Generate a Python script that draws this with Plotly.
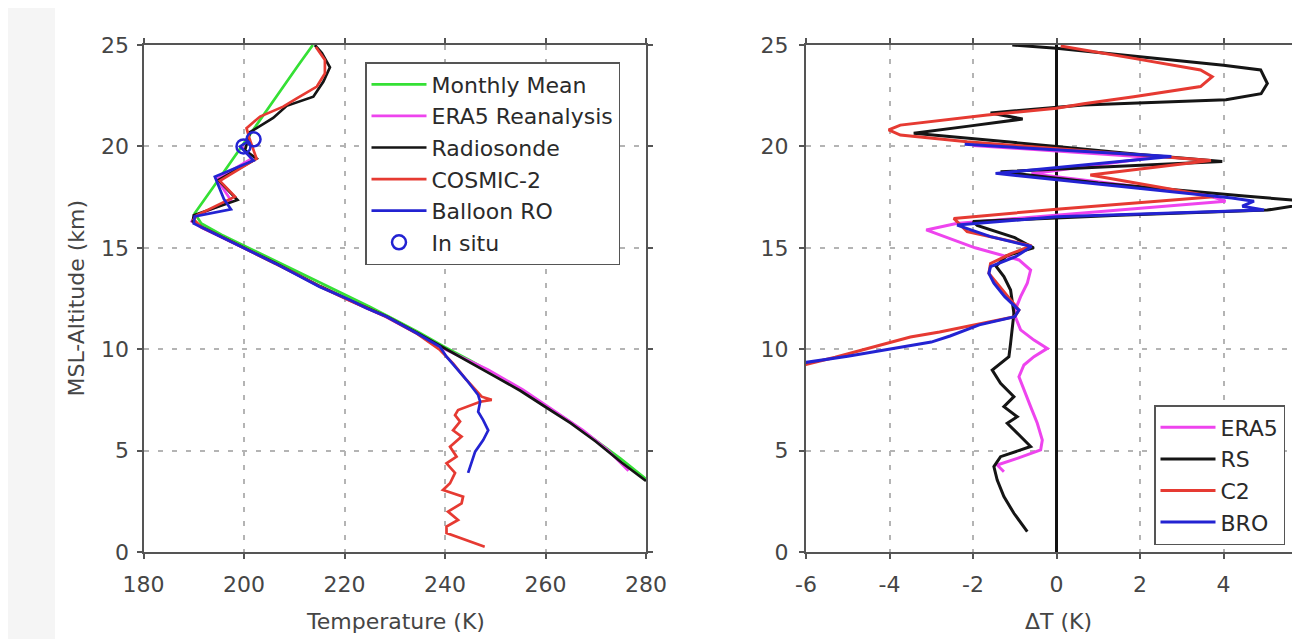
import plotly.graph_objects as go

# ---------------- Left panel: temperature profiles ----------------
mean_alt = [3.6, 4.6, 5.5, 6.4, 7.2, 8.0, 8.75, 9.45, 10.1, 10.8, 11.45, 12.1, 12.7, 13.3, 13.9, 14.5, 15.1,
            15.65, 16.2, 16.7, 18.0, 20.0, 22.0, 24.0, 25.0]
mean_T = [280, 275, 270, 265, 260, 255, 250, 245, 240, 235, 230, 225, 220, 215, 210, 205, 200,
          195.5, 191.5, 190.2, 193.9, 199.5, 205.2, 210.8, 213.7]

era5_alt = [4.0, 5.0, 6.0, 7.0, 8.0, 9.0, 10.0, 10.5, 11.6, 12.4, 13.1, 14.25, 15.05, 15.6, 16.0, 16.3,
            16.6, 17.3, 18.4, 19.4, 20.0]
era5_T = [276.5, 272.5, 267.5, 261.5, 255.5, 248.5, 240.0, 236.5, 228.2, 221.0, 215.0, 206.1, 199.4, 195.0,
          191.5, 189.6, 190.5, 197.5, 194.6, 201.5, 199.6]

rs_alt = [3.5, 4.4, 5.45, 6.35, 7.15, 7.95, 8.65, 9.35, 10.0, 10.8, 11.6, 12.4, 13.1, 13.7, 14.25, 15.05,
          15.6, 16.0, 16.3, 16.6, 17.36, 18.34, 19.4, 19.8, 20.7, 21.4, 22.0, 22.45, 23.2, 23.9, 24.6, 25.0]
rs_T = [280, 275.2, 270, 265, 260, 255, 250, 245, 240.4, 234.5, 228.5, 221.2, 215.2, 210.6, 206.2, 199.6,
        195.2, 191.8, 189.8, 190.0, 198.7, 194.9, 202.5, 200.2, 201.2, 205.8, 208.5, 213.8, 215.8, 217.1,
        215.5, 214.1]

c2_alt = [0.26, 0.93, 1.25, 1.58, 1.99, 2.4, 2.73, 3.06, 3.39, 3.9, 4.37, 4.7, 5.19, 5.69, 6.0, 6.43, 6.75,
          7.0, 7.41, 7.5, 7.66, 8.48, 9.3, 9.96, 10.8, 11.6, 12.4, 13.1, 13.7, 14.25, 15.05, 15.6, 16.0,
          16.4, 16.6, 17.52, 18.3, 19.4, 20.3, 20.9, 21.47, 21.96, 22.37, 22.95, 23.6, 24.26, 24.9]
c2_T = [247.9, 240.3, 240.3, 242.6, 240.6, 243.3, 243.6, 239.6, 241.0, 242.0, 240.3, 242.3, 241.0, 243.3,
        241.6, 243.0, 242.0, 242.6, 247.0, 249.3, 247.3, 244.3, 241.6, 239.0, 234.2, 228.3, 221.0, 215.0,
        210.4, 206.0, 199.4, 195.0, 191.6, 190.0, 190.6, 198.2, 195.2, 202.5, 201.2, 200.5, 203.2, 207.8,
        210.5, 214.5, 216.1, 216.1, 214.3]

bro_alt = [3.9, 4.45, 4.95, 5.52, 6.0, 6.5, 6.92, 7.41, 7.74, 8.48, 9.14, 9.63, 10.12, 10.8, 11.6, 12.02,
           12.43, 13.08, 14.23, 15.05, 15.6, 16.0, 16.2, 16.55, 16.9, 17.4, 18.5, 19.3, 20.0, 20.2]
bro_T = [244.6, 245.3, 246.0, 247.6, 248.6, 247.6, 246.6, 247.0, 246.6, 244.3, 242.0, 240.3, 239.0, 234.3,
         228.4, 224.4, 221.1, 215.0, 206.2, 199.5, 195.0, 191.7, 190.0, 190.2, 197.4, 196.0, 194.2, 201.9,
         199.2, 200.5]

insitu_alt = [20.35, 20.0]
insitu_T = [201.9, 199.9]

# ---------------- Right panel: temperature differences ----------------
era5_d_alt = [3.96, 4.29, 4.62, 5.03, 5.52, 6.35, 7.17, 7.99, 8.64, 9.22, 9.63, 10.04, 10.45, 10.95, 11.77,
              12.59, 13.25, 13.9, 14.4, 15.0, 15.5, 15.88, 16.2, 16.6, 17.3, 17.6, 18.65, 19.45, 20.05]
era5_d = [-1.26, -1.42, -0.94, -0.38, -0.34, -0.46, -0.62, -0.78, -0.9, -0.78, -0.54, -0.22, -0.54, -0.86,
          -1.02, -0.86, -0.7, -0.62, -0.9, -1.95, -2.6, -3.12, -2.4, 0.0, 4.05, 3.6, -0.6, 2.3, -2.0]

rs_d_alt = [1.0, 1.91, 2.73, 3.55, 4.21, 4.7, 5.2, 5.69, 6.35, 6.67, 7.17, 7.66, 8.32, 8.97, 9.3, 9.63,
            10.29, 10.95, 11.77, 12.92, 13.58, 14.1, 14.6, 15.0, 15.5, 16.1, 16.3, 16.6, 16.86, 17.25, 17.55,
            18.2, 18.75, 19.25, 19.6, 20.0, 20.65, 21.0, 21.35, 21.65, 22.04, 22.3, 22.6, 23.1, 23.77, 24.0,
            24.84, 25.0]
rs_d = [-0.70, -1.02, -1.26, -1.42, -1.50, -1.34, -0.62, -0.86, -1.18, -0.94, -1.26, -1.02, -1.34, -1.54,
        -1.34, -1.14, -1.10, -1.06, -1.02, -1.10, -1.26, -1.45, -1.2, -0.55, -1.0, -1.9, -2.0, 1.5, 5.05,
        6.3, 4.5, 1.0, -1.34, 3.97, 2.0, 0.0, -3.42, -2.1, -0.81, -1.58, 0.65, 4.06, 4.9, 5.05, 4.89, 4.0,
        0.0, -1.06]

c2_d_alt = [8.6, 9.0, 9.6, 10.05, 10.6, 10.85, 11.2, 11.6, 11.93, 12.43, 13.08, 13.74, 14.23, 14.7, 15.1,
            15.8, 16.45, 16.9, 17.52, 18.59, 19.3, 20.23, 20.56, 20.81, 21.05, 21.55, 21.88, 22.1, 22.45,
            22.95, 23.44, 23.77, 24.34, 24.95]
c2_d = [-7.5, -6.5, -5.3, -4.5, -3.5, -2.8, -2.0, -1.0, -0.9, -1.1, -1.34, -1.62, -1.58, -1.1, -0.6, -2.14,
        -2.46, 0.0, 3.77, 0.81, 3.7, -2.14, -3.74, -4.02, -3.74, -1.66, 0.0, 0.65, 1.85, 3.45, 3.73, 3.45,
        1.85, 0.1]

bro_d_alt = [8.8, 9.2, 9.65, 10.0, 10.35, 10.65, 11.2, 11.6, 11.93, 12.59, 13.25, 13.74, 14.07, 14.56, 15.06,
             15.55, 16.04, 16.12, 16.53, 16.86, 17.05, 17.3, 17.45, 18.67, 19.5, 20.1]
bro_d = [-7.5, -6.5, -5.0, -4.0, -3.0, -2.55, -1.85, -1.0, -0.9, -1.24, -1.5, -1.62, -1.58, -0.98, -0.6,
         -1.58, -2.27, -2.38, 0.0, 4.97, 4.45, 4.73, 4.2, -1.46, 2.75, -2.2]

temp_ticks = [180, 200, 220, 240, 260, 280]
temp_labels = ["180", "200", "220", "240", "260", "280"]
dt_ticks = [-6, -4, -2, 0, 2, 4, 6]
dt_labels = ["-6", "-4", "-2", "0", "2", "4", "6"]
alt_ticks = [0, 5, 10, 15, 20, 25]
alt_labels = ["0", "5", "10", "15", "20", "25"]

GREEN = "#35e035"
MAGENTA = "#ee44ee"
BLACK = "#151515"
RED = "#e63a32"
BLUE = "#2323d2"
FONT = "DejaVu Sans"
TXT = "#454545"

W = 1300
H = 639
OFF = 8  # page body margin offset (screen = figure + 8 px)

def fx(px):  # screen px -> paper fraction (x)
    return (px - OFF) / W

def fy(py):  # screen px -> paper fraction (y)
    return 1 - (py - OFF) / H

fig = go.Figure()

def left(name, x, y, color):
    fig.add_trace(go.Scatter(x=x, y=y, mode="lines", name=name, line=dict(color=color, width=2.7),
                             xaxis="x", yaxis="y", legend="legend"))

left("Monthly Mean", mean_T, mean_alt, GREEN)
left("ERA5 Reanalysis", era5_T, era5_alt, MAGENTA)
left("Radiosonde", rs_T, rs_alt, BLACK)
left("COSMIC-2", c2_T, c2_alt, RED)
left("Balloon RO", bro_T, bro_alt, BLUE)
fig.add_trace(go.Scatter(x=insitu_T, y=insitu_alt, mode="markers", name="In situ",
                         marker=dict(symbol="circle-open", size=14, color=BLUE, line=dict(width=2.5, color=BLUE)),
                         xaxis="x", yaxis="y", legend="legend"))

def right(name, x, y, color):
    fig.add_trace(go.Scatter(x=x, y=y, mode="lines", name=name, line=dict(color=color, width=3),
                             xaxis="x2", yaxis="y2", legend="legend2"))

right("ERA5", era5_d, era5_d_alt, MAGENTA)
right("RS", rs_d, rs_d_alt, BLACK)
right("C2", c2_d, c2_d_alt, RED)
right("BRO", bro_d, bro_d_alt, BLUE)

ydom = [fy(552), fy(45)]
common = dict(showgrid=True, gridcolor="#b4b4b4", griddash="5px,9px", gridwidth=1.5,
              showline=True, linecolor="#555", linewidth=2, ticks="outside", ticklen=5,
              tickcolor="#555", tickwidth=1.5, tickfont=dict(family=FONT, size=22, color=TXT),
              fixedrange=True, automargin=False)

x2_left = 806
x2_px_per_unit = 41.75
x2_right_val = -6 + (W + OFF - x2_left) / x2_px_per_unit

fig.update_layout(
    width=W, height=H,
    margin=dict(l=0, r=0, t=0, b=0, pad=0, autoexpand=False),
    paper_bgcolor="white", plot_bgcolor="white",
    showlegend=True,
    xaxis=dict(domain=[fx(143.5), fx(646)], range=[180, 280], tickvals=temp_ticks, ticktext=temp_labels,
               anchor="y", mirror="allticks", zeroline=False, ticklabelstandoff=7, **common),
    yaxis=dict(domain=ydom, range=[0, 25], tickvals=alt_ticks, ticktext=alt_labels, anchor="x",
               mirror="allticks", zeroline=False, ticklabelstandoff=3, **common),
    xaxis2=dict(domain=[fx(x2_left), 1.0], range=[-6, x2_right_val], tickvals=dt_ticks,
                ticktext=dt_labels, anchor="y2",
                mirror="allticks", zeroline=True, zerolinecolor="#111", zerolinewidth=3,
                ticklabelstandoff=7, **common),
    yaxis2=dict(domain=ydom, range=[0, 25], tickvals=alt_ticks, ticktext=alt_labels, anchor="x2",
                mirror=False, zeroline=False, ticklabelstandoff=6, **common),
    legend=dict(x=fx(365), y=fy(62), xanchor="left", yanchor="top", bgcolor="white",
                bordercolor="#555", borderwidth=1.5, itemwidth=55,
                font=dict(family=FONT, size=22, color="#2a2a2a")),
    legend2=dict(x=fx(1154), y=fy(405), xanchor="left", yanchor="top", bgcolor="white",
                 bordercolor="#555", borderwidth=1.5, itemwidth=55,
                 font=dict(family=FONT, size=22, color="#2a2a2a")),
    shapes=[dict(type="rect", xref="paper", yref="paper", x0=0, x1=fx(55), y0=0, y1=1,
                 fillcolor="#f5f5f5", line=dict(width=0), layer="below")],
    annotations=[
        dict(text="Temperature (K)", x=fx(395), y=fy(621), xref="paper", yref="paper",
             showarrow=False, xanchor="center", yanchor="middle", font=dict(family=FONT, size=22, color=TXT)),
        dict(text="ΔT (K)", x=fx(1058), y=fy(621), xref="paper", yref="paper",
             showarrow=False, xanchor="center", yanchor="middle", font=dict(family=FONT, size=22, color=TXT)),
        dict(text="MSL-Altitude (km)", x=fx(75.5), y=fy(298), xref="paper", yref="paper", textangle=-90,
             showarrow=False, xanchor="center", yanchor="middle", font=dict(family=FONT, size=22, color=TXT)),
    ],
)

fig.write_html("out.html")
